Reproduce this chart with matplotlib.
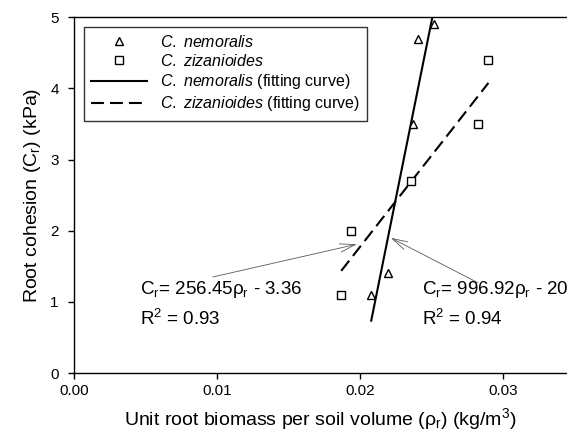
import matplotlib
matplotlib.use("Agg")
import matplotlib.pyplot as plt

plt.rcParams["font.family"] = ["Liberation Sans", "DejaVu Sans"]
plt.rcParams["mathtext.fontset"] = "custom"
plt.rcParams["mathtext.rm"] = "Liberation Sans"
plt.rcParams["mathtext.it"] = "Liberation Sans:italic"
plt.rcParams["mathtext.default"] = "regular"

# root biomass (kg/m3) vs root cohesion (kPa)
nem_rho = [0.0208, 0.0220, 0.0237, 0.0241, 0.0252]
nem_cr = [1.1, 1.4, 3.5, 4.7, 4.9]
ziz_rho = [0.0187, 0.0194, 0.0236, 0.0283, 0.0290]
ziz_cr = [1.1, 2.0, 2.7, 3.5, 4.4]

# regression coefficients (slope, intercept)
nem_fit = (996.92, -20.0)
ziz_fit = (256.45, -3.36)
nem_r2 = 0.94
ziz_r2 = 0.93

xticks = [0.0, 0.01, 0.02, 0.03]
yticks = [0, 1, 2, 3, 4, 5]

fig = plt.figure(figsize=(5.67, 4.42), dpi=100)
ax = fig.add_axes([0.1305, 0.1561, 0.8695, 0.8048])

ax.plot(nem_rho, nem_cr, linestyle="none", marker="^", ms=6, mfc="white",
        mec="black", mew=1.0, label=r"$\mathit{C.\ nemoralis}$", zorder=3)
ax.plot(ziz_rho, ziz_cr, linestyle="none", marker="s", ms=5.5, mfc="white",
        mec="black", mew=1.0, label=r"$\mathit{C.\ zizanioides}$", zorder=3)

x0, x1 = min(nem_rho), max(nem_rho)
ax.plot([x0, x1], [nem_fit[0] * x0 + nem_fit[1], nem_fit[0] * x1 + nem_fit[1]],
        color="black", lw=1.5,
        label=r"$\mathit{C.\ nemoralis}$ (fitting curve)")
x0, x1 = min(ziz_rho), max(ziz_rho)
ax.plot([x0, x1], [ziz_fit[0] * x0 + ziz_fit[1], ziz_fit[0] * x1 + ziz_fit[1]],
        color="black", lw=1.5, dashes=(6.2, 2.9),
        label=r"$\mathit{C.\ zizanioides}$ (fitting curve)")

# equation labels with pointer arrows
arrow = dict(arrowstyle="->,head_length=1.1,head_width=0.3", lw=0.6,
             color="0.35", shrinkA=0, shrinkB=0)
ax.annotate("", xy=(0.01979, 1.81), xytext=(0.00972, 1.35), arrowprops=arrow)
ax.annotate("", xy=(0.02217, 1.90), xytext=(0.02825, 1.27), arrowprops=arrow)

eq_size = 13.5
ax.text(0.00462, 1.11, "C$_r$= %.2fρ$_r$ - %.2f" % (ziz_fit[0], -ziz_fit[1]),
        fontsize=eq_size, ha="left", va="baseline")
ax.text(0.00462, 0.68, "R$^2$ = %.2f" % ziz_r2, fontsize=eq_size,
        ha="left", va="baseline")
ax.text(0.02434, 1.11, "C$_r$= %.2fρ$_r$ - %d" % (nem_fit[0], -nem_fit[1]),
        fontsize=eq_size, ha="left", va="baseline")
ax.text(0.02434, 0.68, "R$^2$ = %.2f" % nem_r2, fontsize=eq_size,
        ha="left", va="baseline")

ax.set_xlim(0, 0.0345)
ax.set_ylim(0, 5)
ax.set_xticks(xticks)
ax.set_xticklabels(["%.2f" % t for t in xticks])
ax.set_yticks(yticks)
ax.tick_params(direction="out", length=4, width=1, labelsize=11)
ax.tick_params(axis="x", pad=4)
ax.tick_params(axis="y", pad=7)
ax.spines["right"].set_visible(False)
for s in ("left", "bottom", "top"):
    ax.spines[s].set_linewidth(1.0)

ax.set_xlabel("Unit root biomass per soil volume (ρ$_r$) (kg/m$^3$)",
              fontsize=14, labelpad=6)
ax.set_ylabel("Root cohesion (C$_r$) (kPa)", fontsize=14, labelpad=5)

leg = ax.legend(loc="upper left", bbox_to_anchor=(0.0203, 0.9736),
                borderaxespad=0, fontsize=11.5, frameon=True, fancybox=False,
                edgecolor="black", handlelength=3.5, handletextpad=0.8,
                labelspacing=0.2, borderpad=0.45)
leg.get_frame().set_linewidth(1.0)

fig.savefig("out.png", dpi=100)
